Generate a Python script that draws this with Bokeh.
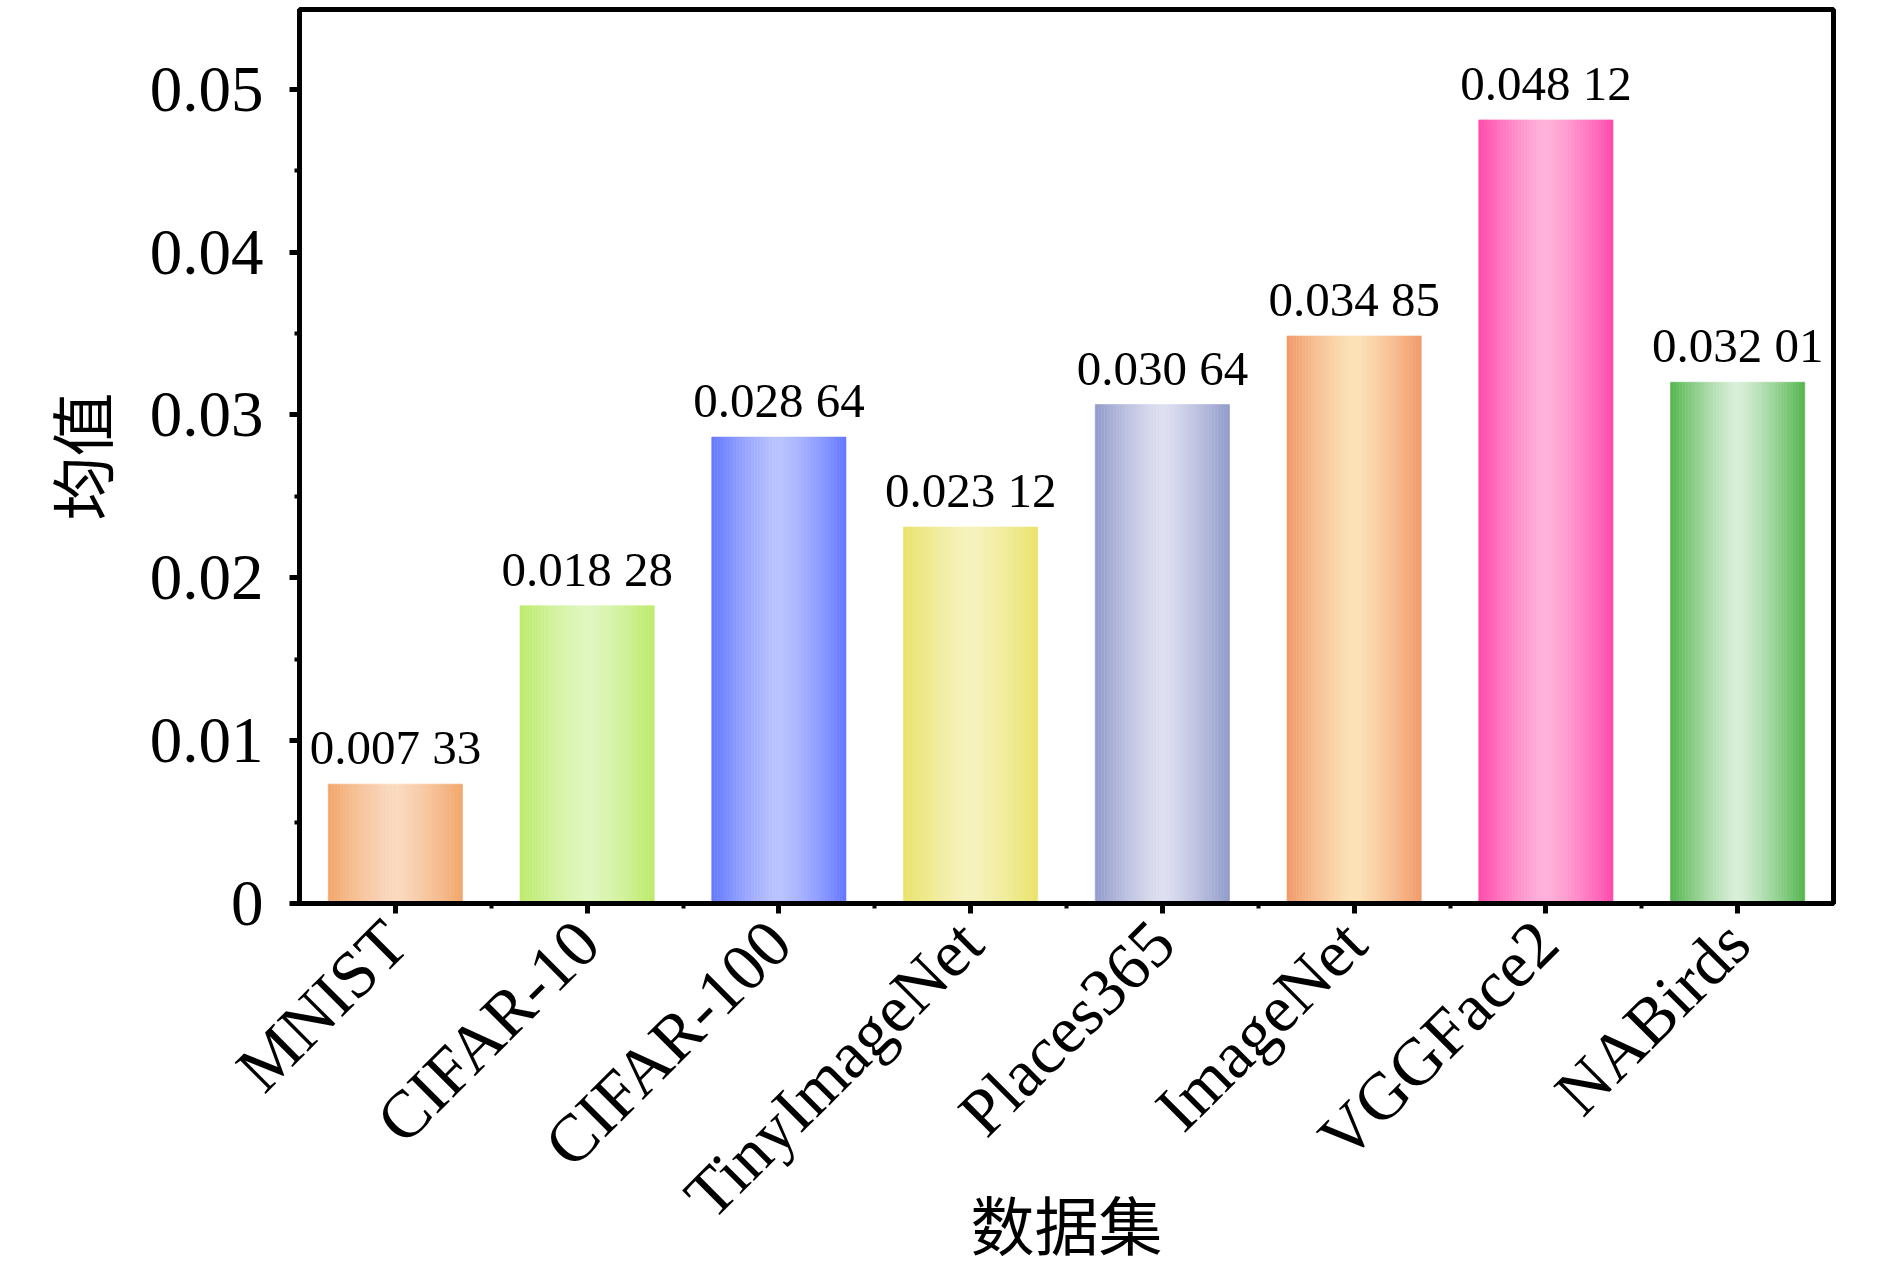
import math
from bokeh.plotting import figure
from bokeh.models import (ColumnDataSource, Range1d, FixedTicker)
from bokeh.transform import dodge
from bokeh.embed import file_html
from bokeh.resources import INLINE
from bokeh.core.properties import value

# ---- data ----
categories = ["MNIST", "CIFAR-10", "CIFAR-100", "TinyImageNet",
              "Places365", "ImageNet", "VGGFace2", "NABirds"]
means = [0.00733, 0.01828, 0.02864, 0.02312, 0.03064, 0.03485, 0.04812, 0.03201]
y_ticks = [0.0, 0.01, 0.02, 0.03, 0.04, 0.05]
y_tick_labels = ["0", "0.01", "0.02", "0.03", "0.04", "0.05"]
y_minor_ticks = [0.005, 0.015, 0.025, 0.035, 0.045]
x_title = "数据集"
y_title = "均值"

# ---- styles (edge colour, centre colour) ----
edge_colors = [(242, 166, 106), (189, 235, 106), (100, 120, 255), (234, 227, 106),
               (145, 155, 203), (242, 154, 106), (255, 74, 172), (82, 181, 77)]
center_colors = [(250, 218, 192), (224, 247, 192), (186, 196, 255), (246, 242, 190),
                 (223, 223, 240), (252, 226, 184), (255, 178, 218), (216, 239, 216)]

SERIF = "Liberation Serif"
CJK = "Noto Sans CJK SC"

def fmt(v):
    s = f"{v:.5f}"
    return s[:5] + " " + s[5:]

value_labels = [fmt(v) for v in means]
ncat = len(categories)
positions = [i + 0.5 for i in range(ncat)]   # slot centres on the category axis

W, H = 1874, 1271
p = figure(width=W, height=H, output_backend="svg", toolbar_location=None,
           x_range=Range1d(0, ncat), y_range=Range1d(0, 0.0549),
           min_border_left=299, min_border_right=41,
           min_border_top=9, min_border_bottom=366)
p.grid.visible = False
p.outline_line_color = "black"
p.outline_line_width = 5
p.background_fill_color = "white"
p.border_fill_color = "white"

# ---- gradient bars built from vertical strips ----
N = 44
bar_w = 0.7
strip_w = bar_w / N
for k in range(N):
    u = (k + 0.5) / N
    t = abs(u - 0.5) * 2.0
    m = t ** 1.3
    cols = []
    for e, c in zip(edge_colors, center_colors):
        r = round(c[0] + (e[0] - c[0]) * m)
        g = round(c[1] + (e[1] - c[1]) * m)
        b = round(c[2] + (e[2] - c[2]) * m)
        cols.append(f"#{r:02x}{g:02x}{b:02x}")
    src = ColumnDataSource(dict(pos=positions, val=means, color=cols))
    off = -bar_w / 2 + (k + 0.5) * strip_w
    p.vbar(x=dodge("pos", off), top="val", bottom=0,
           width=strip_w, source=src, fill_color="color", line_color="color",
           line_width=0.6)

# ---- value labels ----
lsrc = ColumnDataSource(dict(pos=positions, val=means, label=value_labels))
p.text(x="pos", y="val", text="label", source=lsrc, text_align="center",
       text_baseline="bottom", y_offset=-9, text_font=value(SERIF),
       text_font_size="49px", text_color="black")

# ---- y axis ----
ya = p.yaxis[0]
ya.ticker = FixedTicker(ticks=y_ticks, minor_ticks=y_minor_ticks)
ya.major_label_overrides = {t: l for t, l in zip(y_ticks, y_tick_labels)}
ya.major_label_text_font = SERIF
ya.major_label_text_font_size = "65px"
ya.major_label_text_color = "black"
ya.major_label_standoff = 26
ya.axis_line_width = 5
ya.major_tick_line_width = 5
ya.major_tick_out = 10
ya.major_tick_in = 0
ya.minor_tick_line_width = 4
ya.minor_tick_out = 5
ya.minor_tick_in = 0
ya.axis_label = y_title
ya.axis_label_text_font = CJK
ya.axis_label_text_font_size = "64px"
ya.axis_label_text_font_style = "normal"
ya.axis_label_text_color = "black"
ya.axis_label_standoff = 22

# ---- x axis ----
xa = p.xaxis[0]
xa.ticker = FixedTicker(ticks=positions, minor_ticks=list(range(1, ncat)))
xa.major_label_overrides = {c: name for c, name in zip(positions, categories)}
xa.major_label_orientation = math.pi / 4
xa.major_label_text_font = SERIF
xa.major_label_text_font_size = "67px"
xa.major_label_text_color = "black"
xa.major_label_standoff = 18
xa.axis_line_width = 5
xa.major_tick_line_width = 5
xa.major_tick_out = 10
xa.major_tick_in = 0
xa.minor_tick_line_width = 4
xa.minor_tick_out = 5
xa.minor_tick_in = 0
xa.axis_label = x_title
xa.axis_label_text_font = CJK
xa.axis_label_text_font_size = "64px"
xa.axis_label_text_font_style = "normal"
xa.axis_label_text_color = "black"
xa.axis_label_standoff = -85

open("out.html", "w").write(file_html(p, INLINE))
